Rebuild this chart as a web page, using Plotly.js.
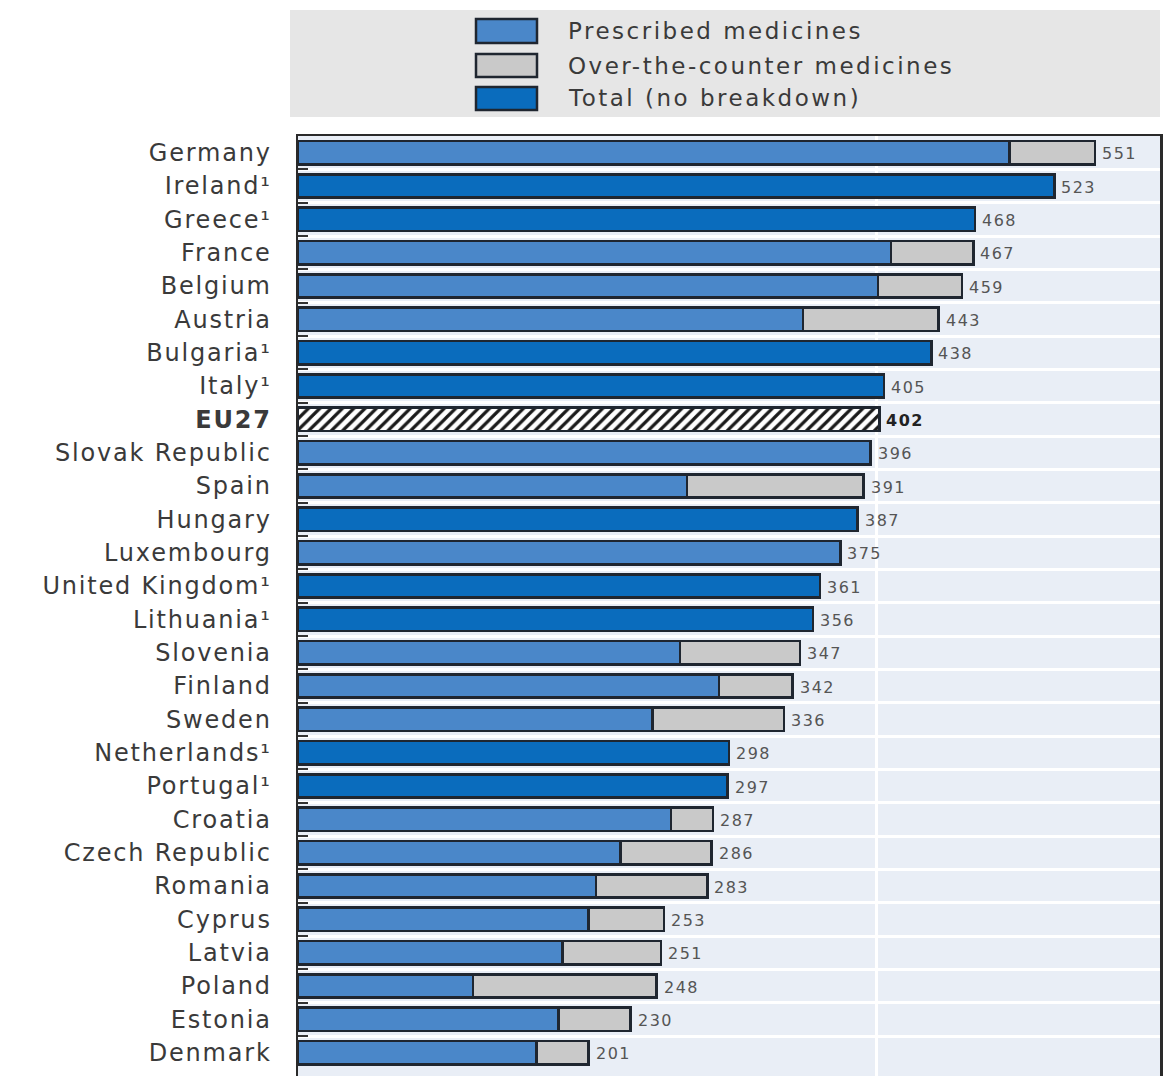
<!DOCTYPE html>
<html>
<head>
<meta charset="utf-8">
<script src="https://cdn.plot.ly/plotly-3.0.1.min.js"></script>
<style>
  html, body { margin:0; padding:0; background:#fff; }
  #chart { width:1165px; height:1076px; }
  .ytick text { letter-spacing: 1.8px; }
  .annotation-text { letter-spacing: 1.5px; }
</style>
</head>
<body>
<div id="chart"></div>
<script>
// ---- data ----
const countries = [
  'Germany', 'Ireland¹', 'Greece¹', 'France', 'Belgium', 'Austria',
  'Bulgaria¹', 'Italy¹', '<b>EU27</b>', 'Slovak Republic', 'Spain', 'Hungary',
  'Luxembourg', 'United Kingdom¹', 'Lithuania¹', 'Slovenia', 'Finland', 'Sweden',
  'Netherlands¹', 'Portugal¹', 'Croatia', 'Czech Republic', 'Romania', 'Cyprus',
  'Latvia', 'Poland', 'Estonia', 'Denmark'
];
const prescribed = [492, null, null, 410, 401, 349, null, null, null, 396, 269, null,
  375, null, null, 264, 291, 245, null, null, 258, 223, 206, 201, 183, 121, 180, 165];
const overTheCounter = [59, null, null, 57, 58, 94, null, null, null, null, 122, null,
  null, null, null, 83, 51, 91, null, null, 29, 63, 77, 52, 68, 127, 50, 36];
const totalNoBreakdown = [null, 523, 468, null, null, null, 438, 405, null, null, null, 387,
  null, 361, 356, null, null, null, 298, 297, null, null, null, null, null, null, null, null];
const eu27Average = [null, null, null, null, null, null, null, null, 402, null, null, null,
  null, null, null, null, null, null, null, null, null, null, null, null, null, null, null, null];
const totals = [551, 523, 468, 467, 459, 443, 438, 405, 402, 396, 391, 387, 375, 361, 356,
  347, 342, 336, 298, 297, 287, 286, 283, 253, 251, 248, 230, 201];
const seriesNames = ['Prescribed medicines', 'Over-the-counter medicines', 'Total (no breakdown)'];
const seriesColors = ['#4a87c9', '#c9c9c9', '#0a6cbd'];

// ---- layout helpers ----
const W = 1165, H = 1076, ML = 298, MR = 5, MT = 136, MB = 0;
const PW = W - ML - MR, PH = H - MT - MB;
const px2x = p => (p - ML) / PW;
const py2y = p => (H - MB - p) / PH;
const outline = { color: '#1f2630', width: 2.5 };

const traces = [
  { type: 'bar', orientation: 'h', name: seriesNames[0], y: countries, x: prescribed,
    width: 0.7, marker: { color: seriesColors[0], line: outline }, showlegend: false },
  { type: 'bar', orientation: 'h', name: seriesNames[1], y: countries, x: overTheCounter,
    width: 0.7, marker: { color: seriesColors[1], line: outline }, showlegend: false },
  { type: 'bar', orientation: 'h', name: seriesNames[2], y: countries, x: totalNoBreakdown,
    width: 0.7, marker: { color: seriesColors[2], line: outline }, showlegend: false },
  { type: 'bar', orientation: 'h', name: 'EU27', y: countries, x: eu27Average,
    width: 0.7, marker: { color: '#ffffff', line: outline,
      pattern: { shape: '/', fgcolor: '#1a1a1a', bgcolor: '#ffffff', size: 8, solidity: 0.4 } },
    showlegend: false }
];

const annotations = countries.map((c, i) => ({
  x: totals[i], y: c, xref: 'x', yref: 'y', showarrow: false,
  xanchor: 'left', yanchor: 'middle', xshift: 5, yshift: -1,
  text: c.indexOf('EU27') >= 0 ? '<b>' + totals[i] + '</b>' : String(totals[i]),
  font: { family: 'DejaVu Sans', size: 16, color: c.indexOf('EU27') >= 0 ? '#222' : '#555' }
}));

const legendRows = [[19, 43], [54, 77], [87, 110]];
const shapes = [
  { type: 'rect', xref: 'paper', yref: 'paper', x0: px2x(290), x1: px2x(1160),
    y0: py2y(117), y1: py2y(10), fillcolor: '#e6e6e6', line: { width: 0 }, layer: 'below' }
];
legendRows.forEach((r, k) => {
  shapes.push({ type: 'rect', xref: 'paper', yref: 'paper', x0: px2x(476), x1: px2x(537),
    y0: py2y(r[1]), y1: py2y(r[0]), fillcolor: seriesColors[k],
    line: { color: '#1f2630', width: 2.5 } });
  annotations.push({ xref: 'paper', yref: 'paper', x: px2x(566), y: py2y((r[0] + r[1]) / 2),
    xanchor: 'left', yanchor: 'middle', showarrow: false,
    text: '<span style="letter-spacing:2.5px">' + seriesNames[k] + '</span>',
    font: { family: 'DejaVu Sans', size: 23, color: '#3a3a3a' } });
});

const layout = {
  width: W, height: H,
  margin: { l: ML, r: MR, t: MT, b: MB, pad: 0 },
  paper_bgcolor: '#ffffff', plot_bgcolor: '#e9eef6',
  barmode: 'stack', showlegend: false,
  xaxis: { range: [0, 596], tickmode: 'array', tickvals: [400], showticklabels: false, ticks: '',
    showgrid: true, gridcolor: '#ffffff', gridwidth: 3, zeroline: false,
    showline: true, linecolor: '#2a2a2a', linewidth: 2.5, mirror: true, fixedrange: true },
  yaxis: { type: 'category', categoryorder: 'array', categoryarray: countries,
    range: [27.7, -0.5], tickson: 'boundaries', ticks: 'inside', ticklen: 10,
    tickwidth: 2, tickcolor: '#333', showgrid: true, gridcolor: '#ffffff', gridwidth: 3,
    showline: true, linecolor: '#2a2a2a', linewidth: 2.5, mirror: true,
    ticklabelstandoff: 19,
    tickfont: { family: 'DejaVu Sans', size: 24, color: '#3a3a3a' }, fixedrange: true },
  shapes: shapes,
  annotations: annotations
};

Plotly.newPlot('chart', traces, layout, { staticPlot: true, displayModeBar: false });
</script>
</body>
</html>
